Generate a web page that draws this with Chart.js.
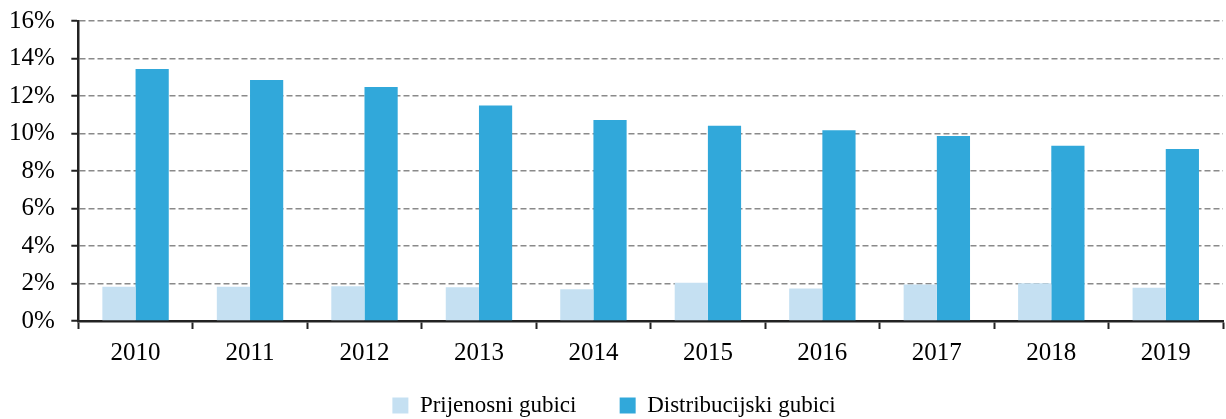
<!doctype html>
<html>
<head>
  <meta charset="utf-8" />
  <title>Gubici</title>
  <style>
    html, body { margin:0; padding:0; background:#fff; }
    .wrap { width:1226px; height:419px; position:relative; }
  </style>
</head>
<body>
  <div class="wrap"><canvas id="chart"></canvas></div>

  <script src="https://cdn.jsdelivr.net/npm/chart.js@4.4.1/dist/chart.umd.min.js"></script>
  <script>
    const years = ['2010','2011','2012','2013','2014','2015','2016','2017','2018','2019'];
    const prijenosni = [1.83, 1.83, 1.85, 1.80, 1.70, 2.04, 1.74, 1.95, 2.01, 1.78];
    const distribucijski = [13.44, 12.86, 12.48, 11.50, 10.72, 10.42, 10.17, 9.87, 9.35, 9.17];
    const yTicks = [0, 2, 4, 6, 8, 10, 12, 14, 16];

    const family = '"Liberation Serif", "Times New Roman", serif';
    const tickFont = { family, size: 25 };
    const legendFont = { family, size: 23 };

    new Chart(document.getElementById('chart').getContext('2d'), {
      type: 'bar',
      data: {
        labels: years,
        datasets: [
          { label: 'Prijenosni gubici', data: prijenosni, backgroundColor: '#C5E0F2',
            categoryPercentage: 0.58, barPercentage: 1.0 },
          { label: 'Distribucijski gubici', data: distribucijski, backgroundColor: '#31A8DA',
            categoryPercentage: 0.58, barPercentage: 1.0 }
        ]
      },
      options: {
        responsive: true,
        maintainAspectRatio: false,
        animation: false,
        layout: { padding: { top: 21, right: 3, left: 5, bottom: -8 } },
        plugins: {
          tooltip: { enabled: false },
          legend: {
            position: 'bottom',
            labels: {
              font: legendFont, color: '#000', boxWidth: 16, boxHeight: 16, padding: 3,
              // small padding keeps the legend low, so widen the gap between items with spaces
              generateLabels: chart => {
                const items = Chart.defaults.plugins.legend.labels.generateLabels(chart);
                items.forEach((it, i) => { if (i < items.length - 1) it.text += '       '; });
                return items;
              }
            }
          }
        },
        scales: {
          x: {
            grid: { display: true, drawOnChartArea: false, offset: true, tickLength: 8,
                    tickColor: '#222', tickWidth: 2 },
            border: { display: true, color: '#222', width: 2.5 },
            ticks: { font: tickFont, color: '#000', padding: 9 },
            // extra room between the year labels and the legend
            afterFit: s => { s.height += 14; }
          },
          y: {
            min: 0, max: 16,
            afterBuildTicks: axis => { axis.ticks = yTicks.map(v => ({ value: v })); },
            grid: { color: '#8a8a8a', lineWidth: 1.5, tickLength: 7,
                    tickColor: '#222', tickWidth: 2, tickBorderDash: [] },
            border: { display: true, color: '#222', width: 2.5, dash: [6, 3] },
            ticks: { font: tickFont, color: '#000', padding: 4, callback: v => v + '%  ' }
          }
        }
      }
    });
  </script>
</body>
</html>
